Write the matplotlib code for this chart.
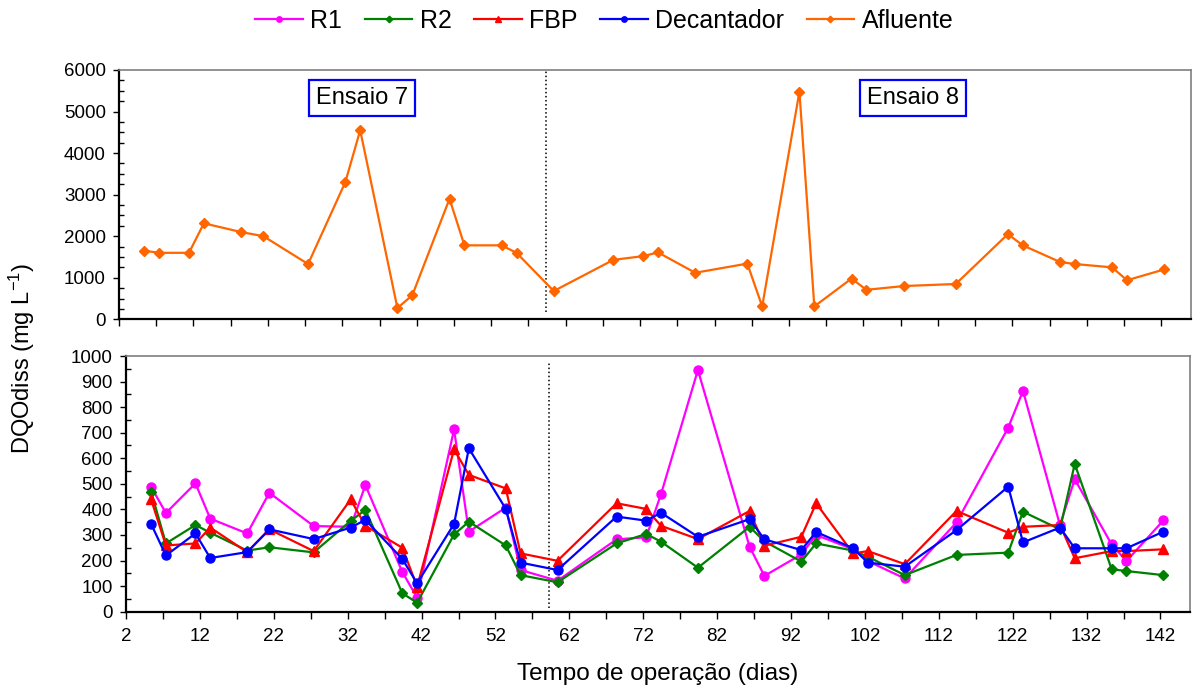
import matplotlib
matplotlib.use("Agg")
import matplotlib.pyplot as plt
from matplotlib.ticker import MultipleLocator, FixedLocator
from matplotlib.lines import Line2D

plt.rcParams['font.family'] = ['Liberation Sans', 'DejaVu Sans']
plt.rcParams['mathtext.default'] = 'regular'

# ---------------- data ----------------
days = [5.4, 7.4, 11.4, 13.4, 18.4, 21.4, 27.4, 32.4, 34.4, 39.4, 41.4, 46.4,
        48.4, 53.4, 55.4, 60.4, 68.4, 72.4, 74.4, 79.4, 86.4, 88.4, 93.4, 95.4,
        100.4, 102.4, 107.4, 114.4, 121.4, 123.4, 128.4, 130.4, 135.4, 137.4, 142.4]

afluente = [1650, 1600, 1600, 2310, 2100, 2000, 1330, 3300, 4550, 270, 580, 2900,
            1780, 1780, 1600, 680, 1430, 1520, 1610, 1120, 1340, 310, 5480, 310,
            980, 710, 800, 850, 2050, 1780, 1380, 1330, 1250, 940, 1200]

r1 = [488, 386, 502, 364, 306, 465, 335, 332, 495, 155, 55, 713,
      313, 407, 163, 121, 283, 291, 459, 945, 254, 140, 224, 300,
      244, 198, 130, 349, 720, 864, 339, 518, 263, 198, 357]

r2 = [469, 267, 339, 309, 239, 252, 232, 355, 398, 72, 35, 302,
      352, 259, 143, 115, 267, 304, 274, 172, 332, 275, 196, 267,
      239, 215, 143, 222, 231, 391, 322, 578, 166, 159, 143]

fbp = [439, 259, 267, 329, 233, 322, 237, 439, 336, 250, 98, 635,
       535, 482, 228, 199, 424, 402, 336, 284, 394, 258, 293, 424,
       228, 237, 186, 394, 309, 332, 339, 209, 237, 237, 244]

decantador = [343, 220, 306, 210, 233, 322, 284, 329, 359, 206, 111, 343,
              639, 402, 192, 163, 372, 356, 387, 293, 362, 283, 241, 312,
              248, 192, 176, 319, 489, 271, 329, 248, 248, 248, 313]

series_names = ['R1', 'R2', 'FBP', 'Decantador', 'Afluente']
colors = {'R1': '#FF00FF', 'R2': '#008000', 'FBP': '#FF0000',
          'Decantador': '#0000FF', 'Afluente': '#FF6600'}
markers = {'R1': 'o', 'R2': 'D', 'FBP': '^', 'Decantador': 'o', 'Afluente': 'D'}
msizes = {'R1': 6.5, 'R2': 5.5, 'FBP': 7.5, 'Decantador': 6.5, 'Afluente': 5.5}

x_ticks = list(range(2, 143, 10))
split_day = 59.3
xlim = (2, 146)

W, H = 1197, 695
fig = plt.figure(figsize=(W / 100, H / 100), dpi=100)

ax_top = fig.add_axes([119 / W, 1 - 319.3 / H, 1072 / W, 249.3 / H])
ax_bot = fig.add_axes([126 / W, 1 - 611.7 / H, 1064 / W, 255.7 / H])


def style_axes(ax):
    for s in ['left', 'bottom']:
        ax.spines[s].set_color('black')
        ax.spines[s].set_linewidth(1.6)
    for s in ['top', 'right']:
        ax.spines[s].set_color('#7f7f7f')
        ax.spines[s].set_linewidth(1.2)
    ax.set_xlim(*xlim)
    ax.xaxis.set_major_locator(FixedLocator(x_ticks))
    ax.xaxis.set_minor_locator(FixedLocator([t + 5 for t in x_ticks]))
    ax.tick_params(axis='x', which='both', direction='out', length=4.8, width=1,
                   pad=7, labelsize=13.5)
    ax.tick_params(axis='y', which='major', direction='out', length=4.5, width=1,
                   pad=5, labelsize=13.5)
    ax.tick_params(axis='y', which='minor', direction='in', length=3.5, width=1)


# top panel: influent
ax_top.plot(days, afluente, color=colors['Afluente'], marker=markers['Afluente'],
            markersize=msizes['Afluente'], lw=1.6, clip_on=False, zorder=3)
ax_top.set_ylim(0, 6000)
ax_top.yaxis.set_major_locator(MultipleLocator(1000))
ax_top.yaxis.set_minor_locator(MultipleLocator(250))
style_axes(ax_top)
ax_top.tick_params(axis='x', labelbottom=False)
ax_top.axvline(split_day, ymin=0.03, ymax=1.0, color='black', ls=':', lw=1.1)

box = dict(boxstyle='square,pad=0.3', facecolor='white', edgecolor='#0000FF', linewidth=1.6)
ax_top.text(0.2267, 0.888, 'Ensaio 7', transform=ax_top.transAxes, ha='center',
            va='center', fontsize=17, bbox=box)
ax_top.text(0.7407, 0.888, 'Ensaio 8', transform=ax_top.transAxes, ha='center',
            va='center', fontsize=17, bbox=box)

# bottom panel
bottom_series = {'R1': r1, 'R2': r2, 'FBP': fbp, 'Decantador': decantador}
for name in ['R1', 'R2', 'FBP', 'Decantador']:
    ax_bot.plot(days, bottom_series[name], color=colors[name], marker=markers[name],
                markersize=msizes[name], lw=1.6, clip_on=False, zorder=3)
ax_bot.set_ylim(0, 1000)
ax_bot.yaxis.set_major_locator(MultipleLocator(100))
ax_bot.yaxis.set_minor_locator(MultipleLocator(50))
style_axes(ax_bot)
ax_bot.axvline(split_day, ymin=0.013, ymax=0.974, color='black', ls=':', lw=1.1)
ax_bot.set_xlabel('Tempo de operação (dias)', fontsize=17.5, labelpad=13)

fig.text(22 / W, 1 - 358 / H, 'DQOdiss (mg L$^{-1}$)', rotation=90, ha='center',
         va='center', fontsize=17)

# legend
handles = [Line2D([], [], color=colors[n], marker=markers[n], markersize=msizes[n] * 0.6,
                  lw=1.6) for n in series_names]
fig.legend(handles, series_names, loc='center', bbox_to_anchor=(0.505, 1 - 21 / H),
           ncol=5, frameon=False, fontsize=18, handlelength=1.9, handletextpad=0.3,
           columnspacing=0.9)

fig.savefig('out.png', dpi=100)
